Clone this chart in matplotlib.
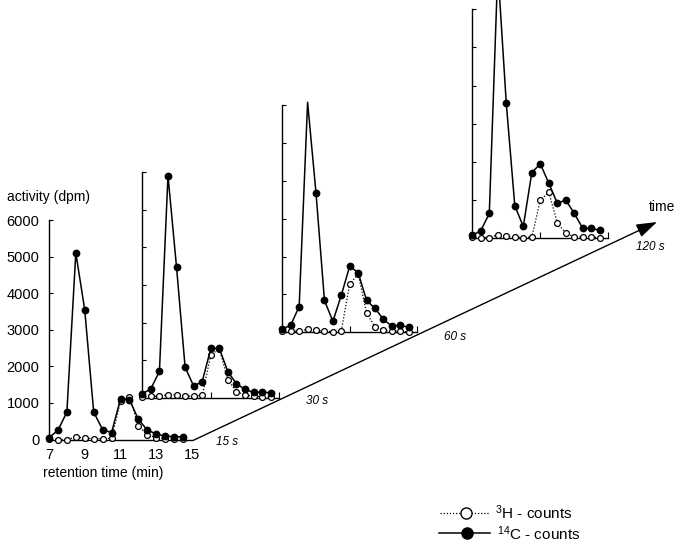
import numpy as np
import matplotlib.pyplot as plt
from matplotlib.lines import Line2D

plt.rcParams['font.family'] = ['Liberation Sans', 'DejaVu Sans']
plt.rcParams['mathtext.fontset'] = 'custom'
plt.rcParams['mathtext.rm'] = 'Liberation Sans'
plt.rcParams['mathtext.it'] = 'Liberation Sans:italic'

# retention time (min) of each fraction
retention = [7.0, 7.5, 8.0, 8.5, 9.0, 9.5, 10.0, 10.5,
             11.0, 11.5, 12.0, 12.5, 13.0, 13.5, 14.0, 14.5]
time_labels = ['15 s', '30 s', '60 s', '120 s']

# 14C counts (dpm) per sampling time
c14_15s = [50, 250, 750, 5100, 3540, 750, 270, 190, 1110, 1090, 550, 260, 150, 90, 80, 70]
c14_30s = [100, 240, 700, 5910, 3470, 810, 310, 430, 1310, 1310, 690, 370, 220, 140, 150, 130]
c14_60s = [80, 190, 680, 6070, 3670, 840, 290, 980, 1750, 1570, 840, 630, 340, 160, 190, 130]
c14_120s = [80, 200, 650, 7050, 3530, 850, 310, 1720, 1950, 1440, 920, 1000, 650, 260, 260, 210]

# 3H counts (dpm) per sampling time
h3_15s = [20, 0, 0, 70, 40, 20, 20, 30, 1040, 1170, 380, 120, 50, 20, 20, 20]
h3_30s = [30, 40, 40, 80, 80, 40, 40, 60, 1140, 1300, 470, 160, 70, 40, 30, 10]
h3_60s = [30, 30, 30, 80, 50, 30, 20, 40, 1280, 1530, 510, 140, 60, 30, 30, 10]
h3_120s = [30, 20, 20, 90, 50, 30, 20, 30, 1000, 1200, 410, 130, 40, 30, 30, 20]

W, H = 683, 547
fig = plt.figure(figsize=(W / 100, H / 100), dpi=100)

# overlay in pixel coords for the time axis, labels and legend
ov = fig.add_axes([0, 0, 1, 1])
ov.set_xlim(0, W)
ov.set_ylim(H, 0)
ov.axis('off')

# panel boxes in pixels: left, top (6000 dpm), right (15 min), baseline
boxes = [(49, 220, 192, 439.5),
         (142.3, 172.3, 279.3, 397.7),
         (282.3, 104.9, 417.2, 332.3),
         (472.3, 9.1, 608.3, 238.3)]
label_pos = [(227, 442), (317, 401), (455, 337), (650, 247)]

c14_all = [c14_15s, c14_30s, c14_60s, c14_120s]
h3_all = [h3_15s, h3_30s, h3_60s, h3_120s]

ymax = 6000
for i, (l, t, r, b) in enumerate(boxes):
    ax = fig.add_axes([l / W, 1 - b / H, (r - l) / W, (b - t) / H])
    ax.set_facecolor('none')
    ax.set_xlim(7, 15)
    ax.set_ylim(0, ymax)
    for s in ['top', 'right']:
        ax.spines[s].set_visible(False)
    for s in ['left', 'bottom']:
        ax.spines[s].set_linewidth(1.0)

    c14 = np.array(c14_all[i], dtype=float)
    h3 = np.array(h3_all[i], dtype=float)

    ax.plot(retention, h3, ls=(0, (1, 1.5)), color='k', lw=0.9, clip_on=False, zorder=2)
    ax.plot(retention, h3, ls='none', marker='o', ms=4.2, mfc='white', mec='k',
            mew=0.9, clip_on=False, zorder=3)
    ax.plot(retention, c14, ls='-', color='k', lw=1.1, clip_on=False, zorder=4)
    # peaks running off the scale carry no marker
    c14_mk = np.ma.masked_greater(c14, ymax)
    ax.plot(retention, c14_mk, ls='none', marker='o', ms=4.6, mfc='k', mec='k',
            clip_on=False, zorder=5)

    ax.set_yticks(np.arange(0, 7000, 1000))
    ax.tick_params(axis='y', direction='in', length=3, width=0.8)
    if i == 0:
        ax.set_xticks([7, 9, 11, 13, 15])
        ax.tick_params(axis='x', direction='in', length=0, pad=6, labelsize=10.5)
        ax.tick_params(axis='y', pad=7, labelsize=10.5)
    else:
        ax.set_xticks([11, 15])
        ax.tick_params(axis='x', direction='in', length=4, width=0.8, labelbottom=False)
        ax.tick_params(axis='y', labelleft=False)

    ov.text(label_pos[i][0], label_pos[i][1], time_labels[i], style='italic',
            fontsize=8.5, ha='center', va='center')

ov.text(7, 197, 'activity (dpm)', fontsize=10, ha='left', va='center')
ov.text(103, 473, 'retention time (min)', fontsize=10, ha='center', va='center')

# time axis
ov.annotate('', xy=(657, 222), xytext=(193, 440.5),
            arrowprops=dict(arrowstyle='-|>,head_length=0.9,head_width=0.3',
                            color='k', lw=1.0, mutation_scale=14, shrinkA=0, shrinkB=0))
ov.text(662, 207, 'time', fontsize=10, ha='center', va='center')

# legend
ov.add_line(Line2D([440, 490], [512.7, 512.7], ls=(0, (1, 1.5)), color='k', lw=0.9))
ov.plot([465.7], [512.7], marker='o', ms=8, mfc='white', mec='k', mew=1)
ov.text(495, 512.7, r'$^{3}$H - counts', fontsize=11, ha='left', va='center')
ov.add_line(Line2D([439.3, 490], [533.3, 533.3], ls='-', color='k', lw=1.1))
ov.plot([466.7], [533.3], marker='o', ms=8, mfc='k', mec='k')
ov.text(496.7, 533.3, r'$^{14}$C - counts', fontsize=11, ha='left', va='center')

fig.savefig('out.png', dpi=100)
